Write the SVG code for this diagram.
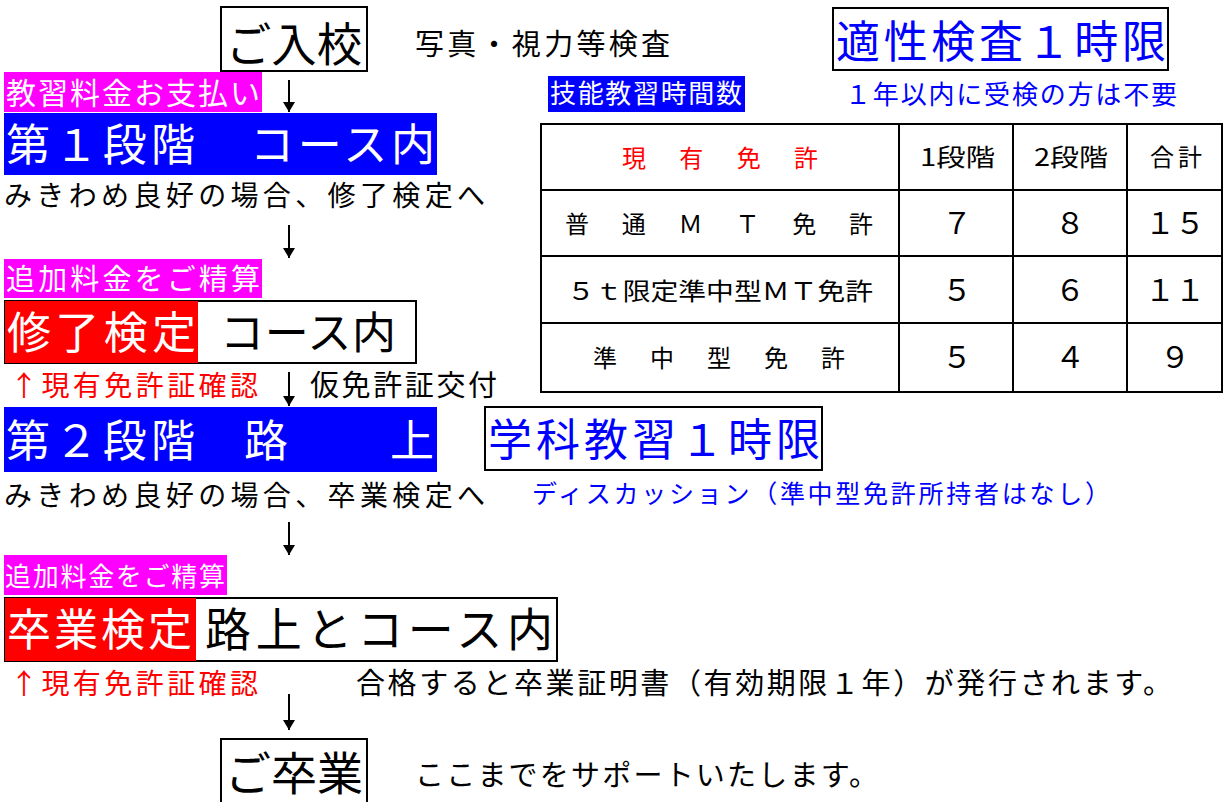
<svg xmlns="http://www.w3.org/2000/svg" width="1230" height="802" viewBox="0 0 1230 802">
<style>
text{font-family:"Noto Sans CJK JP","Noto Sans CJK SC",sans-serif;}
.k{fill:#000}.w{fill:#fff}.b{fill:#0000ff}.r{fill:#ff0000}
.box{fill:#fff;stroke:#000;stroke-width:2}
.cell{fill:none;stroke:#000;stroke-width:2}
.mid{text-anchor:middle}
</style>
<defs>
<marker id="ah" viewBox="0 0 10 12" refX="10" refY="6" markerWidth="10" markerHeight="12" markerUnits="userSpaceOnUse" orient="auto">
<path d="M0,0 L10,6 L0,12 Z" fill="#000"/>
</marker>
</defs>
<rect width="1230" height="802" fill="#fff"/>

<g id="connectors" stroke="#000" stroke-width="2" fill="none">
<line x1="289" y1="80" x2="289" y2="112" marker-end="url(#ah)"/>
<line x1="289" y1="225" x2="289" y2="258" marker-end="url(#ah)"/>
<line x1="289" y1="372" x2="289" y2="406" marker-end="url(#ah)"/>
<line x1="289" y1="522" x2="289" y2="555" marker-end="url(#ah)"/>
<line x1="289" y1="694" x2="289" y2="730" marker-end="url(#ah)"/>
</g>

<g id="nyuko">
<rect class="box" x="221" y="7" width="146" height="64"/>
<text class="k" x="226" y="61" font-size="46" textLength="136" lengthAdjust="spacingAndGlyphs">ご入校</text>
</g>
<text class="k" x="415" y="55" font-size="29" textLength="255" lengthAdjust="spacing">写真・視力等検査</text>

<g id="tekisei">
<rect class="box" x="833" y="8" width="335" height="62"/>
<text class="b" x="836" y="58" font-size="44" textLength="330" lengthAdjust="spacing">適性検査１時限</text>
</g>
<g id="gino-label">
<rect x="548" y="76" width="197" height="36" fill="#0000ff"/>
<text class="w" x="550" y="103" font-size="26" textLength="192" lengthAdjust="spacing">技能教習時間数</text>
</g>
<text class="b" x="845" y="104" font-size="26" textLength="332" lengthAdjust="spacing">１年以内に受検の方は不要</text>

<g id="pay1">
<rect x="4" y="72" width="258" height="40" fill="#ff00ff"/>
<text class="w" x="6" y="104" font-size="30" textLength="254" lengthAdjust="spacing">教習料金お支払い</text>
</g>

<g id="stage1">
<rect x="4" y="113" width="433" height="62" fill="#0000ff"/>
<text class="w" x="6" y="161" font-size="44" textLength="189" lengthAdjust="spacing">第１段階</text>
<text class="w" x="250" y="161" font-size="44" textLength="185" lengthAdjust="spacing">コース内</text>
</g>
<text class="k" x="4" y="206" font-size="28" textLength="481" lengthAdjust="spacing">みきわめ良好の場合、修了検定へ</text>

<g id="pay2">
<rect x="4" y="259" width="258" height="39" fill="#ff00ff"/>
<text class="w" x="6" y="290" font-size="29" textLength="254" lengthAdjust="spacing">追加料金をご精算</text>
</g>

<g id="shuryo">
<rect class="box" x="5" y="301" width="411" height="62"/>
<rect x="5" y="301" width="193" height="62" fill="#ff0000"/>
<text class="w" x="7" y="349" font-size="44" textLength="189" lengthAdjust="spacing">修了検定</text>
<text class="k" x="220" y="349" font-size="44" textLength="176" lengthAdjust="spacing">コース内</text>
</g>
<text class="r" x="10" y="396" font-size="28" textLength="248" lengthAdjust="spacing">↑現有免許証確認</text>
<text class="k" x="310" y="396" font-size="29" textLength="187" lengthAdjust="spacing">仮免許証交付</text>

<g id="stage2">
<rect x="4" y="407" width="433" height="65" fill="#0000ff"/>
<text class="w" x="6" y="457" font-size="44" textLength="189" lengthAdjust="spacing">第２段階</text>
<text class="w" x="244" y="457" font-size="44">路</text>
<text class="w" x="390" y="457" font-size="44">上</text>
</g>
<g id="gakka">
<rect class="box" x="485" y="407" width="337" height="63"/>
<text class="b" x="488" y="456" font-size="44" textLength="332" lengthAdjust="spacing">学科教習１時限</text>
</g>
<text class="k" x="4" y="506" font-size="28" textLength="481" lengthAdjust="spacing">みきわめ良好の場合、卒業検定へ</text>
<text class="b" x="532" y="503" font-size="25" textLength="578" lengthAdjust="spacing">ディスカッション（準中型免許所持者はなし）</text>

<g id="pay3">
<rect x="4" y="555" width="223" height="40" fill="#ff00ff"/>
<text class="w" x="5" y="586" font-size="26" textLength="220" lengthAdjust="spacing">追加料金をご精算</text>
</g>

<g id="sotsugyo-kentei">
<rect class="box" x="5" y="598" width="552" height="63"/>
<rect x="5" y="598" width="191" height="63" fill="#ff0000"/>
<text class="w" x="7" y="646" font-size="44" textLength="185" lengthAdjust="spacing">卒業検定</text>
<text class="k" x="205" y="646" font-size="46" textLength="348" lengthAdjust="spacing">路上とコース内</text>
</g>
<text class="r" x="10" y="694" font-size="28" textLength="248" lengthAdjust="spacing">↑現有免許証確認</text>
<text class="k" x="356" y="694" font-size="29" textLength="816" lengthAdjust="spacing">合格すると卒業証明書（有効期限１年）が発行されます。</text>

<g id="sotsugyo">
<rect class="box" x="221" y="739" width="146" height="70"/>
<text class="k" x="225" y="790" font-size="46" textLength="138" lengthAdjust="spacing">ご卒業</text>
</g>
<text class="k" x="415" y="786" font-size="29" textLength="463" lengthAdjust="spacing">ここまでをサポートいたします。</text>

<g id="table">
<rect class="cell" x="541" y="124" width="681" height="268"/>
<line class="cell" x1="541" y1="190" x2="1222" y2="190"/>
<line class="cell" x1="541" y1="256" x2="1222" y2="256"/>
<line class="cell" x1="541" y1="323" x2="1222" y2="323"/>
<line class="cell" x1="899" y1="124" x2="899" y2="392"/>
<line class="cell" x1="1013" y1="124" x2="1013" y2="392"/>
<line class="cell" x1="1127" y1="124" x2="1127" y2="392"/>
<text class="r" x="622" y="167" font-size="24" textLength="196" lengthAdjust="spacing">現　有　免　許</text>
<text class="k" x="920" y="166" font-size="24" textLength="75" lengthAdjust="spacingAndGlyphs">1段階</text>
<text class="k" x="1034" y="166" font-size="24" textLength="74" lengthAdjust="spacingAndGlyphs">2段階</text>
<text class="k" x="1150" y="166" font-size="24" textLength="52" lengthAdjust="spacing">合計</text>
<text class="k" x="565" y="233" font-size="24" textLength="308" lengthAdjust="spacing">普　通　Ｍ　Ｔ　免　許</text>
<text class="k" x="567" y="300" font-size="24" textLength="306" lengthAdjust="spacingAndGlyphs">５ｔ限定準中型ＭＴ免許</text>
<text class="k" x="593" y="367" font-size="24" textLength="252" lengthAdjust="spacing">準　中　型　免　許</text>
<g font-size="30">
<text class="k mid" x="957" y="234">７</text>
<text class="k mid" x="1070" y="234">８</text>
<text class="k mid" x="1175" y="234">１５</text>
<text class="k mid" x="957" y="301">５</text>
<text class="k mid" x="1070" y="301">６</text>
<text class="k mid" x="1175" y="301">１１</text>
<text class="k mid" x="957" y="368">５</text>
<text class="k mid" x="1070" y="368">４</text>
<text class="k mid" x="1175" y="368">９</text>
</g>
</g>
</svg>
